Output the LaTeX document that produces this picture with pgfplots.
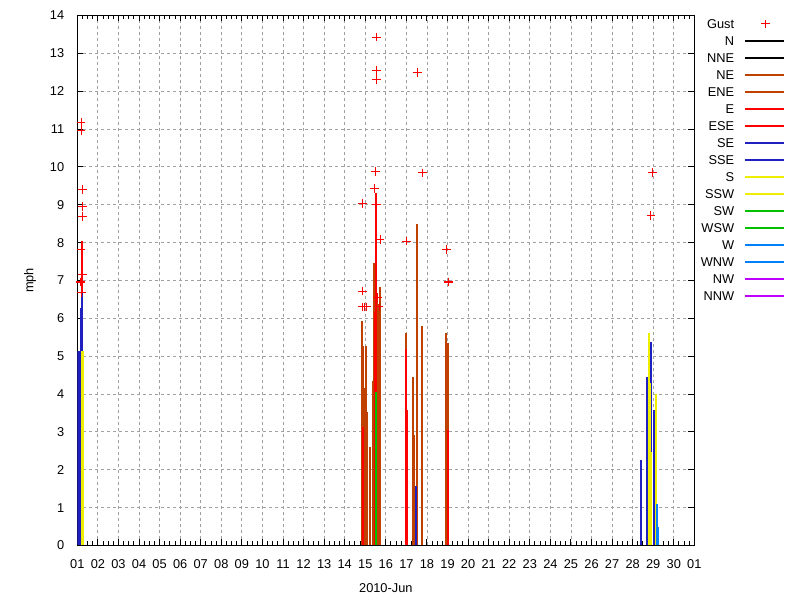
\documentclass[border=0pt]{standalone}
\usepackage{pgfplots}
\pgfplotsset{compat=1.18}
\usepackage{fontspec}
\setmainfont{Liberation Sans}
\definecolor{cNE}{HTML}{C04000}
\definecolor{cE}{HTML}{FF0000}
\definecolor{cSE}{HTML}{2020C0}
\definecolor{cS}{HTML}{EEEE00}
\definecolor{cSW}{HTML}{00C000}
\definecolor{cW}{HTML}{0080FF}
\definecolor{cNW}{HTML}{C000FF}
\definecolor{cgrid}{HTML}{A0A0A0}
\begin{document}
\fontsize{9.6}{11.5}\selectfont
\begin{tikzpicture}
\path[use as bounding box] (-58pt,-40.9pt) rectangle (542pt,409.1pt);
\begin{axis}[
  at={(0pt,0pt)}, anchor=south west,
  scale only axis, width=462.75pt, height=397.5pt,
  xmin=1, xmax=31, ymin=0, ymax=14,
  xtick={1,...,31},
  xticklabels={01,02,03,04,05,06,07,08,09,10,11,12,13,14,15,16,17,18,19,20,21,22,23,24,25,26,27,28,29,30,01},
  minor x tick num=3,
  ytick={0,...,14},
  grid=major,
  major grid style={color=cgrid, dash pattern=on 2.25pt off 2.25pt, line width=0.6pt},
  axis line style={line width=0.75pt},
  every tick/.append style={black, line width=0.75pt},
  major tick length=4.5pt, minor tick length=3pt,
  tick align=inside,
  /pgf/number format/assume math mode=true,
  yticklabel style={xshift=-6.5pt},
  xticklabel style={yshift=-7pt},
  xlabel={2010-Jun}, ylabel={mph},
  every axis x label/.style={at={(rel axis cs:0.5,0)}, anchor=north, yshift=-28.1pt, inner sep=0pt},
  every axis y label/.style={at={(rel axis cs:0,0.5)}, rotate=90, anchor=center, yshift=35.5pt},
  legend cell align=right,
  legend plot pos=right,
  legend style={draw=none, fill=none, at={(rel axis cs:1.147,1.0)}, anchor=north east,
    inner sep=0pt, outer sep=0pt, row sep=0pt, column sep=7.9pt,
    nodes={inner sep=0pt, text height=9.8pt, text depth=2.95pt}},
]
% NE
\addplot[ycomb, cNE, line width=1.5pt, forget plot] coordinates {
(14.86,5.93) (14.91,5.28) (14.95,2.38) (15.00,4.17) (15.05,5.28) (15.08,3.52) (15.25,2.6)
(15.39,4.35) (15.44,7.46) (15.57,6.66) (15.62,6.37) (15.72,6.82)
(17.00,5.61) (17.34,4.46) (17.39,2.93) (17.53,8.50) (17.78,5.81)
(18.94,5.61) (18.98,4.91) (19.04,5.34)
};
% E
\addplot[ycomb, cE, line width=1.5pt, forget plot] coordinates {
(1.24,8.05)
(14.91,3.12) (15.49,6.16) (15.54,9.3)
(17.00,5.2) (17.05,3.57)
(19.02,3.05)
};
% SE
\addplot[ycomb, cSE, line width=1.5pt, forget plot] coordinates {
(1.05,5.15) (1.10,5.15) (1.155,6.26) (1.20,6.0) (1.24,6.7)
(17.49,1.56)
(28.42,2.25) (28.72,4.46) (28.91,5.37) (29.06,3.57)
};
% S
\addplot[ycomb, cS, line width=1.5pt, forget plot] coordinates {
(1.22,5.15) (1.26,5.15)
(28.81,5.61) (28.86,4.28) (28.89,2.47) (29.15,4.0)
};
% SW
\addplot[ycomb, cSW, line width=1.5pt, forget plot] coordinates {
(15.52,4.05)
};
% W
\addplot[ycomb, cW, line width=1.5pt, forget plot] coordinates {
(29.20,1.1) (29.25,0.5)
};
% Gust
\addplot[only marks, mark=+, red, mark size=3.3pt, mark options={line width=0.8pt}, forget plot] coordinates {
(1.18,11.18) (1.18,10.96) (1.24,9.40) (1.24,8.95) (1.24,8.70) (1.18,7.81) (1.24,7.16) (1.15,6.96) (1.21,6.69)
(14.86,9.03) (14.86,6.72) (14.86,6.30) (14.96,6.30) (15.07,6.30)
(15.54,13.43) (15.54,12.55) (15.54,12.31) (15.48,9.87) (15.45,9.43) (15.54,9.0) (15.72,8.08) (15.59,6.55) (15.67,6.30)
(17.00,8.04) (17.53,12.50) (17.78,9.84)
(18.94,7.81) (19.04,6.96)
(28.89,8.72) (28.96,9.86)
};
% legend
\addlegendimage{legend image code/.code={\path (0pt,0pt) (29.25pt,0pt); \draw[red, line width=0.75pt] (15pt,-3.1pt)--(15pt,3.1pt) (11.9pt,0pt)--(18.1pt,0pt);}}
\addlegendentry{Gust}
\addlegendimage{legend image code/.code={\draw[black, line width=1pt] (0pt,0pt)--(29.25pt,0pt);}}
\addlegendentry{N}
\addlegendimage{legend image code/.code={\draw[black, line width=1pt] (0pt,0pt)--(29.25pt,0pt);}}
\addlegendentry{NNE}
\addlegendimage{legend image code/.code={\draw[cNE, line width=1pt] (0pt,0pt)--(29.25pt,0pt);}}
\addlegendentry{NE}
\addlegendimage{legend image code/.code={\draw[cNE, line width=1pt] (0pt,0pt)--(29.25pt,0pt);}}
\addlegendentry{ENE}
\addlegendimage{legend image code/.code={\draw[cE, line width=1pt] (0pt,0pt)--(29.25pt,0pt);}}
\addlegendentry{E}
\addlegendimage{legend image code/.code={\draw[cE, line width=1pt] (0pt,0pt)--(29.25pt,0pt);}}
\addlegendentry{ESE}
\addlegendimage{legend image code/.code={\draw[cSE, line width=1pt] (0pt,0pt)--(29.25pt,0pt);}}
\addlegendentry{SE}
\addlegendimage{legend image code/.code={\draw[cSE, line width=1pt] (0pt,0pt)--(29.25pt,0pt);}}
\addlegendentry{SSE}
\addlegendimage{legend image code/.code={\draw[cS, line width=1pt] (0pt,0pt)--(29.25pt,0pt);}}
\addlegendentry{S}
\addlegendimage{legend image code/.code={\draw[cS, line width=1pt] (0pt,0pt)--(29.25pt,0pt);}}
\addlegendentry{SSW}
\addlegendimage{legend image code/.code={\draw[cSW, line width=1pt] (0pt,0pt)--(29.25pt,0pt);}}
\addlegendentry{SW}
\addlegendimage{legend image code/.code={\draw[cSW, line width=1pt] (0pt,0pt)--(29.25pt,0pt);}}
\addlegendentry{WSW}
\addlegendimage{legend image code/.code={\draw[cW, line width=1pt] (0pt,0pt)--(29.25pt,0pt);}}
\addlegendentry{W}
\addlegendimage{legend image code/.code={\draw[cW, line width=1pt] (0pt,0pt)--(29.25pt,0pt);}}
\addlegendentry{WNW}
\addlegendimage{legend image code/.code={\draw[cNW, line width=1pt] (0pt,0pt)--(29.25pt,0pt);}}
\addlegendentry{NW}
\addlegendimage{legend image code/.code={\draw[cNW, line width=1pt] (0pt,0pt)--(29.25pt,0pt);}}
\addlegendentry{NNW}
\end{axis}
\end{tikzpicture}
\end{document}
